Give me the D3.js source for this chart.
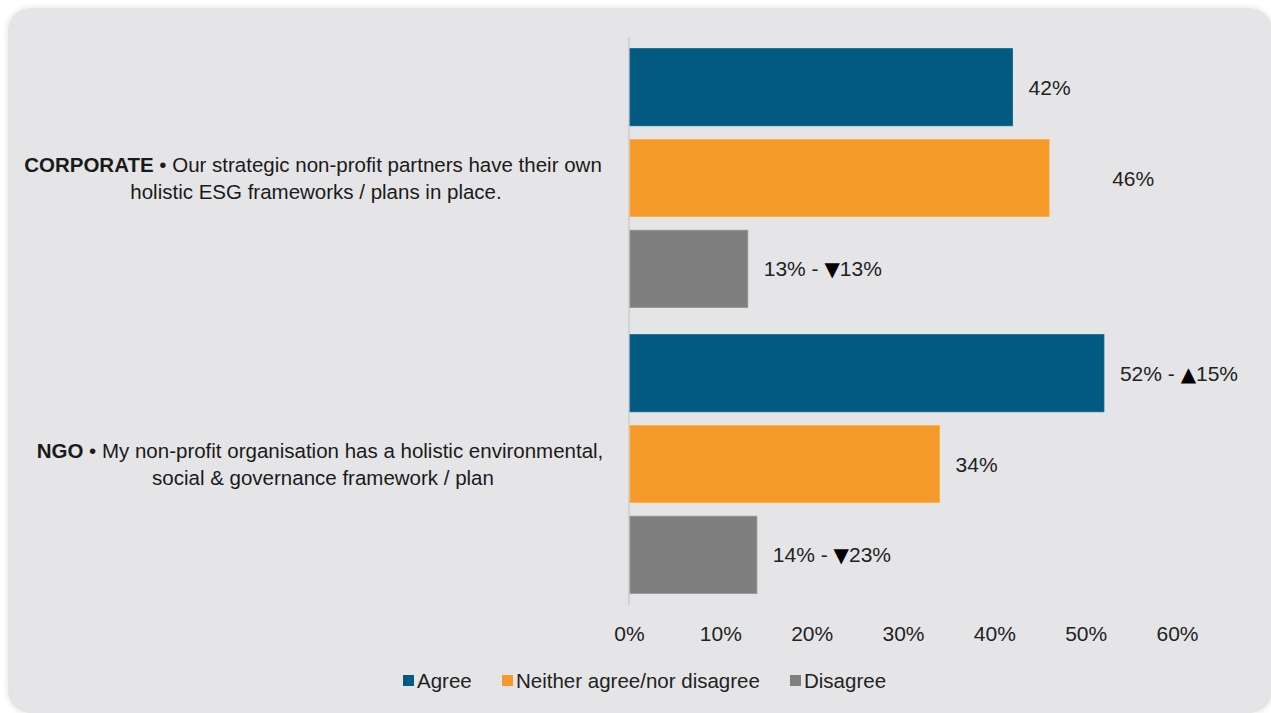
<!DOCTYPE html>
<html>
<head>
<meta charset="utf-8">
<script src="https://cdn.jsdelivr.net/npm/d3@7"></script>
<style>
  html, body { margin: 0; padding: 0; background: #ffffff; }
  svg { display: block; font-family: "Liberation Sans", Arial, Helvetica, sans-serif; }
</style>
</head>
<body>
<svg id="chart" width="1271" height="713"></svg>
<script>
// Survey questions (one group of bars each)
const groups = ["CORPORATE", "NGO"];
const groupText = [
  ["Our strategic non-profit partners have their own", "holistic ESG frameworks / plans in place."],
  ["My non-profit organisation has a holistic environmental,", "social & governance framework / plan"]
];

// Response series
const series = ["Agree", "Neither agree/nor disagree", "Disagree"];
const seriesColors = ["#025a83", "#f6992b", "#7f7f7f"];

// Share of respondents per group, in series order
const agree = [42, 52];
const neither = [46, 34];
const disagree = [13, 14];

// Year-on-year change shown next to some labels (null = none)
const agreeChange = [null, 15];
const neitherChange = [null, null];
const disagreeChange = [-13, -23];

const xTicks = [0, 10, 20, 30, 40, 50, 60];

const values = [agree, neither, disagree];
const changes = [agreeChange, neitherChange, disagreeChange];

const svg = d3.select("#chart");

// Panel with soft shadow
const defs = svg.append("defs");
const f = defs.append("filter").attr("id", "shadow").attr("x", "-5%").attr("y", "-5%").attr("width", "110%").attr("height", "110%");
f.append("feDropShadow").attr("dx", 0).attr("dy", 0).attr("stdDeviation", 3).attr("flood-color", "#000").attr("flood-opacity", 0.12);

svg.append("rect")
  .attr("x", 8).attr("y", 8)
  .attr("width", 1264).attr("height", 705)
  .attr("rx", 22).attr("ry", 22)
  .attr("fill", "#e5e5e7")
  .attr("filter", "url(#shadow)");

const x = d3.scaleLinear().domain([0, 60]).range([629, 1177]);

const y0 = d3.scaleBand().domain(groups).range([35, 607]).padding(0);
const y1 = d3.scaleBand().domain(series).range([0, y0.bandwidth()])
  .paddingInner(0.15).paddingOuter(0.15);

// Vertical axis line
svg.append("line")
  .attr("x1", x(0)).attr("x2", x(0))
  .attr("y1", 37).attr("y2", 605)
  .attr("stroke", "#d2d2d4").attr("stroke-width", 2);

// Bars
const rows = [];
groups.forEach((g, gi) => {
  series.forEach((s, si) => {
    rows.push({ g, gi, s, si, v: values[si][gi], c: changes[si][gi] });
  });
});

// Extra horizontal shift for a label that sits further from its bar
const labelShift = { "CORPORATE|Neither agree/nor disagree": 47 };

const barG = svg.append("g");
barG.selectAll("rect")
  .data(rows)
  .join("rect")
  .attr("x", x(0) + 1)
  .attr("y", d => y0(d.g) + y1(d.s))
  .attr("width", d => x(d.v) - x(0) - 1)
  .attr("height", y1.bandwidth())
  .attr("fill", d => seriesColors[d.si])
  .attr("stroke", d => d3.color(seriesColors[d.si]).brighter(0.35))
  .attr("stroke-width", 0.8);

// Value labels
const lab = svg.append("g")
  .attr("font-size", 21)
  .attr("fill", "#222");
lab.selectAll("text")
  .data(rows)
  .join("text")
  .attr("x", d => x(d.v) + 16 + (labelShift[d.g + "|" + d.s] || 0))
  .attr("y", d => y0(d.g) + y1(d.s) + y1.bandwidth() / 2)
  .attr("dy", "0.36em")
  .each(function (d) {
    const t = d3.select(this);
    t.append("tspan").text(d.v + "%");
    if (d.c !== null) {
      t.append("tspan").text(" - ");
      t.append("tspan")
        .attr("font-family", "DejaVu Sans")
        .attr("font-size", 20)
        .attr("fill", "#000")
        .text(d.c > 0 ? "\u25B2" : "\u25BC");
      t.append("tspan").text(Math.abs(d.c) + "%");
    }
  });

// Category labels
const catG = svg.append("g").attr("font-size", 20.5).attr("fill", "#1a1a1a");
groups.forEach((g, gi) => {
  const cy = y0(g) + y0.bandwidth() / 2;
  const t1 = catG.append("text")
    .attr("x", gi === 0 ? 313 : 320)
    .attr("y", cy - 6)
    .attr("text-anchor", "middle");
  t1.append("tspan").attr("font-weight", "bold").text(g);
  t1.append("tspan").text(" \u2022 " + groupText[gi][0]);
  catG.append("text")
    .attr("x", gi === 0 ? 316 : 323)
    .attr("y", cy + 21)
    .attr("text-anchor", "middle")
    .text(groupText[gi][1]);
});

// X axis tick labels
const axis = d3.axisBottom(x)
  .tickValues(xTicks)
  .tickFormat(d => d + "%")
  .tickSize(0)
  .tickPadding(0);
const ax = svg.append("g")
  .attr("transform", "translate(0,633)")
  .call(axis);
ax.select(".domain").remove();
ax.selectAll("text")
  .attr("font-size", 21)
  .attr("font-family", "Liberation Sans, Arial, sans-serif")
  .attr("fill", "#222")
  .attr("dy", "0.36em")
  .attr("y", 0);

// Legend
const legendX = [403, 502, 790];
const leg = svg.append("g").attr("font-size", 20.5).attr("fill", "#222");
series.forEach((s, i) => {
  leg.append("rect")
    .attr("x", legendX[i]).attr("y", 675)
    .attr("width", 11).attr("height", 11)
    .attr("fill", seriesColors[i]);
  leg.append("text")
    .attr("x", legendX[i] + 14).attr("y", 681)
    .attr("dy", "0.36em")
    .text(s);
});
</script>
</body>
</html>
